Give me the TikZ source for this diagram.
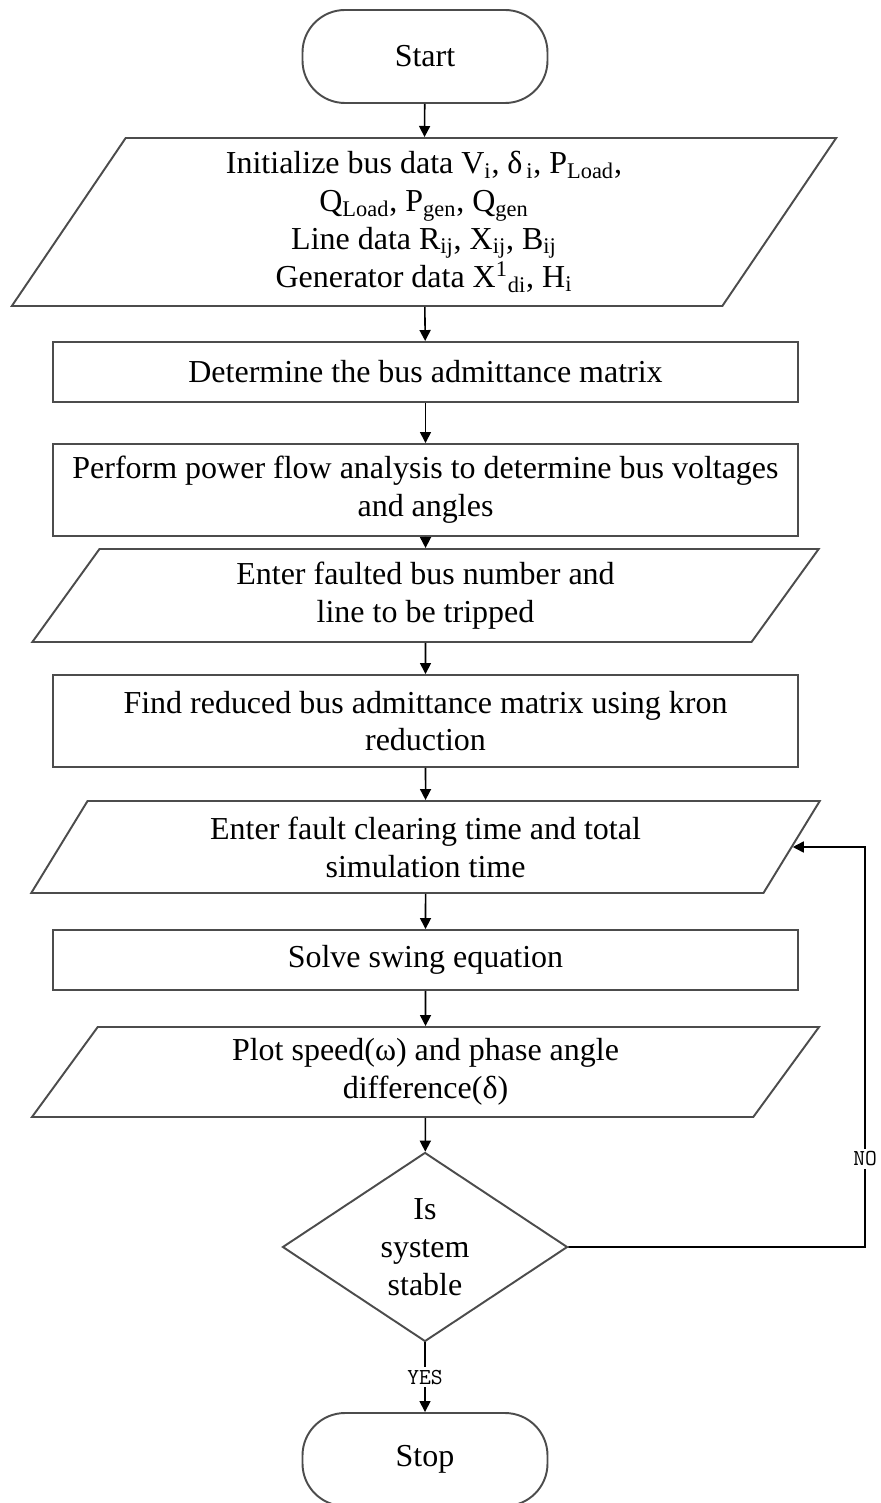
\documentclass[tikz,border=0pt]{standalone}
\usepackage{fontspec}
\setmainfont{Liberation Serif}
\usetikzlibrary{shapes.geometric, arrows.meta}

\begin{document}
\begin{tikzpicture}[
        box/.style={rectangle, draw=black!70, line width=1.1pt, fill=white, minimum width=14.9cm, align=center, font=\fontsize{18.2}{21.5}\selectfont},
        io/.style={trapezium, trapezium left angle=63, trapezium right angle=117, trapezium stretches=true, draw=black!70, line width=1.1pt, fill=white, minimum width=15.78cm, align=center, font=\fontsize{18.2}{21.5}\selectfont},
        term/.style={rectangle, rounded corners=0.85cm, draw=black!70, line width=1.1pt, fill=white, minimum width=4.9cm, minimum height=1.86cm, font=\fontsize{18.2}{21.5}\selectfont},
        decision/.style={diamond, aspect=1.5, draw=black!70, line width=1.1pt, fill=white, minimum width=5.7cm, minimum height=3.78cm, inner sep=0pt, align=center, font=\fontsize{18.2}{21.5}\selectfont},
        arrow/.style={-{Triangle[length=2.2mm, width=2.2mm]}, line width=0.9pt},
        answer/.style={fill=white, inner sep=1.5pt, font=\ttfamily\fontsize{13}{15}\selectfont}
    ]

    \useasboundingbox (0,0) rectangle (17.6,-30.06);

    % Y coordinates (centres):
    % -1.13: Start
    % -4.44: bus, line and generator data
    % -7.44: Ybus
    % -9.80: power flow
    % -11.91: faulted bus
    % -14.42: kron reduction
    % -16.94: clearing time
    % -19.20: swing equation
    % -21.44: plot
    % -24.94: stable?
    % -29.19: Stop

    % Main column
    \node[term] (start) at (8.5, -1.13) {Start};
    \node[io, minimum width=16.52cm, minimum height=3.36cm] (data) at (8.48, -4.44)
        {Initialize bus data V\textsubscript{i}, δ\textsubscript{\,i}, P\textsubscript{Load},\\
         Q\textsubscript{Load}, P\textsubscript{gen}, Q\textsubscript{gen}\\
         Line data R\textsubscript{ij}, X\textsubscript{ij}, B\textsubscript{ij}\\
         Generator data X\textsuperscript{1}\textsubscript{di}, H\textsubscript{i}};
    \node[box, minimum height=1.2cm] (ybus) at (8.51, -7.44) {Determine the bus admittance matrix};
    \node[box, minimum height=1.84cm] (pflow) at (8.51, -9.8) {Perform power flow analysis to determine bus voltages\\and angles};
    \node[io, minimum height=1.86cm] (fault) at (8.51, -11.91) {Enter faulted bus number and\\line to be tripped};
    \node[box, minimum height=1.84cm] (kron) at (8.51, -14.42) {Find reduced bus admittance matrix using kron\\reduction};
    \node[io, minimum height=1.84cm] (tclear) at (8.51, -16.94) {Enter fault clearing time and total\\simulation time};
    \node[box, minimum height=1.2cm] (swing) at (8.51, -19.2) {Solve swing equation};
    \node[io, minimum height=1.8cm] (plot) at (8.51, -21.44) {Plot speed(ω) and phase angle\\difference(δ)};
    \node[decision] (stable) at (8.5, -24.94) {Is\\system\\stable};
    \node[term] (stop) at (8.5, -29.19) {Stop};

    \draw[arrow] (start) -- (data);
    \draw[arrow] (data) -- (ybus);
    \draw[arrow] (ybus) -- (pflow);
    \draw[arrow] (pflow) -- (fault);
    \draw[arrow] (fault) -- (kron);
    \draw[arrow] (kron) -- (tclear);
    \draw[arrow] (tclear) -- (swing);
    \draw[arrow] (swing) -- (plot);
    \draw[arrow] (plot) -- (stable);
    \draw[arrow] (stable) -- node[answer] {YES} (stop);

    % Loop back
    \coordinate (back) at (17.3, -16.94);
    \draw[arrow] (stable.east) -| node[answer, pos=0.61] {NO} (back) -- (tclear.east);

\end{tikzpicture}
\end{document}
